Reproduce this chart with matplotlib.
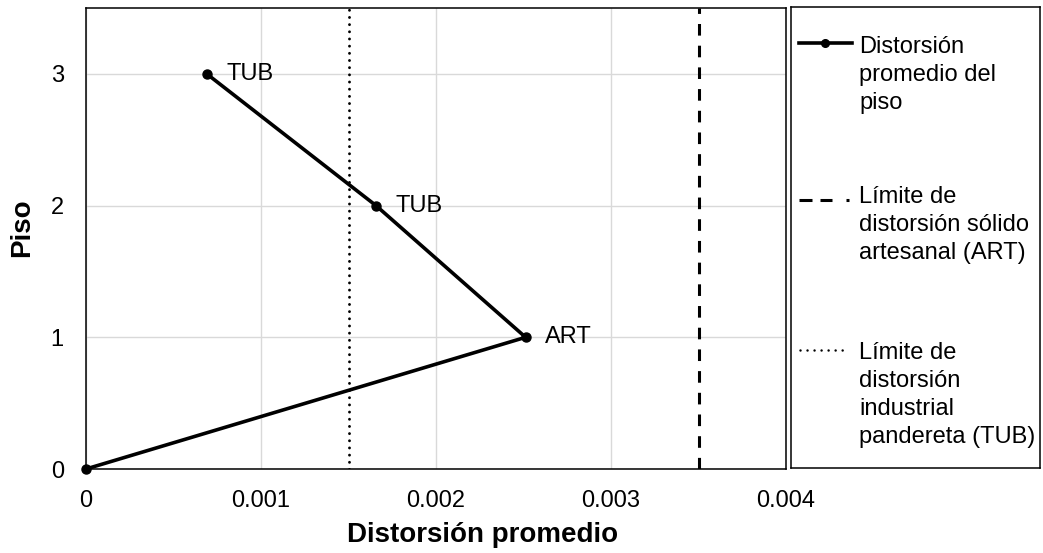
import matplotlib
matplotlib.use("Agg")
import matplotlib.pyplot as plt
from matplotlib.lines import Line2D

plt.rcParams['font.family'] = ['Liberation Sans', 'DejaVu Sans']

# Story drift data
floors = [0, 1, 2, 3]
drift = [0.0, 0.002512, 0.001657, 0.00069]
point_labels = ["", "ART", "TUB", "TUB"]
limit_art = 0.0035
limit_tub = 0.0015

x_ticks = [0, 0.001, 0.002, 0.003, 0.004]
x_tick_labels = ["0", "0.001", "0.002", "0.003", "0.004"]
y_ticks = [0, 1, 2, 3]

legend_texts = [
    "Distorsión\npromedio del\npiso",
    "Límite de\ndistorsión sólido\nartesanal (ART)",
    "Límite de\ndistorsión\nindustrial\npandereta (TUB)",
]

W, H = 1043, 553
fig = plt.figure(figsize=(W / 100, H / 100), dpi=100)

ax = fig.add_axes([86 / W, (H - 469) / H, 700 / W, 461 / H])
ax.set_xlim(0, 0.004)
ax.set_ylim(0, 3.5)
ax.set_xticks(x_ticks)
ax.set_xticklabels(x_tick_labels)
ax.set_yticks(y_ticks)
ax.tick_params(length=0, labelsize=17)
ax.tick_params(axis='x', pad=15)
ax.tick_params(axis='y', pad=16)
ax.grid(True, color='#d9d9d9', linewidth=1.0)
ax.set_axisbelow(True)
for s in ax.spines.values():
    s.set_linewidth(1.1)
    s.set_color('black')

main_lw = 2.6
lim_lw = 2.2
dot_lw = 2.1

ax.axvline(limit_tub, color='black', linewidth=dot_lw,
           linestyle=(0, (0.01, 2.45)), dash_capstyle='round', zorder=2)
ax.axvline(limit_art, color='black', linewidth=lim_lw,
           linestyle=(0, (3.8, 3.3)), dash_capstyle='butt', zorder=2)
ax.plot(drift, floors, color='black', linewidth=main_lw, marker='o',
        markersize=6.5, zorder=3, clip_on=False)

for xv, yv, lab in zip(drift, floors, point_labels):
    if lab:
        ax.annotate(lab, (xv, yv), xytext=(14, 0), textcoords='offset points',
                    ha='left', va='center', fontsize=17)

ax.set_xlabel("Distorsión promedio", fontsize=20, fontweight='bold', labelpad=7)
ax.xaxis.label.set_x(0.567)
ax.set_ylabel("Piso", fontsize=20, fontweight='bold', labelpad=11)
ax.yaxis.label.set_y(0.523)

# Legend panel drawn as its own framed axes (pixel units inside the box)
lax = fig.add_axes([791 / W, (H - 468) / H, 249 / W, 461 / H])
lax.set_xlim(0, 249)
lax.set_ylim(461, 0)
lax.set_xticks([])
lax.set_yticks([])
for s in lax.spines.values():
    s.set_linewidth(1.1)
    s.set_color('black')

px = 0.72  # points per pixel at 100 dpi
lax.add_line(Line2D([8, 61], [36, 36], color='black', linewidth=main_lw))
lax.add_line(Line2D([34], [36], color='black', marker='o', markersize=5.5))
lim_px = lim_lw / px
lax.add_line(Line2D([8, 60], [193, 193], color='black', linewidth=lim_lw,
                    dash_capstyle='butt',
                    linestyle=(0, (13 / lim_px, 8 / lim_px, 12 / lim_px,
                                   14 / lim_px, 3 / lim_px, 20 / lim_px))))
lax.add_line(Line2D([9, 56], [343, 343], color='black', linewidth=1.8,
                    linestyle=(0, (0.01, 2.8)), dash_capstyle='round'))

# text baseline refers to the last line of each block
line_step = 27
for first_base, txt in zip([48, 198, 355], legend_texts):
    n = txt.count("\n")
    lax.text(68, first_base + n * line_step, txt, fontsize=17, ha='left',
             va='baseline', linespacing=1.35)

fig.savefig("out.png", dpi=100)
